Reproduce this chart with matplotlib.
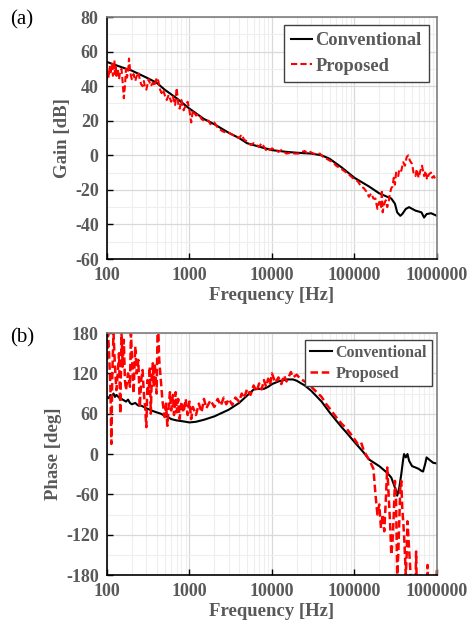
import numpy as np
import matplotlib
matplotlib.use("Agg")
import matplotlib.pyplot as plt

# ---- gain data ----
f_gain_conv = [100, 150, 200, 300, 400, 500, 700, 1000, 1500, 2000, 3000, 4000, 5000,
               7000, 10000, 15000, 20000, 30000, 40000, 50000, 70000, 100000, 150000,
               200000, 280000, 310000, 330000, 360000, 380000, 420000, 460000, 550000,
               650000, 700000, 750000, 850000, 1000000]
gain_conv = [54, 51, 49, 45, 42, 38, 33, 27, 21, 18, 13, 10, 7,
             5, 3, 2, 1.5, 1, 0, -2, -7, -13, -18,
             -22, -25, -28, -33, -35, -34, -31, -30, -32,
             -33, -36, -34, -33.5, -35]

f_gain_prop = [100, 103, 105, 108, 110, 113, 115, 118, 120, 123, 125, 128, 130, 135, 140,
               145, 150, 155, 160, 165, 170, 175, 180, 185, 190, 195, 200, 210, 220, 230,
               240, 250, 260, 270, 280, 290, 300, 320, 340, 360, 380,
               400, 420, 440, 460, 480, 500, 530, 560, 600, 630, 670, 700, 730, 760, 800,
               850, 900, 950, 1000, 1050, 1100, 1200, 1300, 1400, 1500, 1700, 1800, 2000,
               2200, 2500, 2800, 3000, 3300, 3600, 4000, 4300, 4600, 5000, 5500, 6000,
               6500, 7000, 7500, 8000, 8500, 9000, 9500, 10000, 11000, 12000, 13000,
               14000, 15000, 17000, 19000, 21000, 23000, 25000, 27000, 29000, 32000,
               35000, 38000, 42000, 46000, 50000, 55000, 60000, 65000, 70000, 80000,
               90000, 100000, 110000, 120000, 130000, 140000, 150000, 160000, 170000,
               180000, 190000, 200000, 210000, 215000, 220000, 230000, 240000, 250000,
               260000, 270000, 280000, 290000, 300000, 310000, 320000, 340000, 350000,
               370000, 390000, 410000, 430000, 450000, 470000, 500000, 520000, 550000,
               570000, 600000, 630000, 660000, 700000, 730000, 760000, 800000, 850000,
               880000, 920000, 960000, 1000000]
gain_prop = [44, 49, 45, 52, 47, 50, 53, 46, 50, 55, 47, 51, 46, 50, 44,
             49, 50, 42, 33, 40, 50, 45, 48, 56, 50, 46, 44, 47, 43, 46,
             48, 44, 41, 40, 43, 39, 38, 44, 40, 42, 40,
             45, 43, 38, 36, 38, 35, 32, 35, 31, 34, 29, 39, 30, 27, 32,
             26, 29, 31, 26, 19, 26, 23, 24, 21, 20, 20, 18, 19,
             16, 14, 13, 13, 12, 11, 10, 12, 9, 8, 6, 7,
             6, 5, 7, 5, 3, 4, 3, 4, 3, 2, 3,
             2, 1, 1.5, 1, 1, 2, 2.5, 1, 2, 1,
             0.5, 1, -1, -2, -3, -4, -6, -7, -8, -10,
             -12, -14, -15, -18, -19, -21, -24, -22, -25,
             -25, -31, -27, -30, -20, -33, -28, -26, -30,
             -27, -22, -19, -18, -13, -17, -10, -12, -8,
             -9, -4, -6, -1, 0, -3, -5, -10, -12,
             -8, -13, -9, -6, -12, -9, -14, -11, -10,
             -13, -12, -14, -14]

# ---- phase data ----
f_ph_conv = [100, 105, 110, 115, 120, 125, 130, 140, 150, 160, 170, 180, 190, 200, 220,
             240, 260, 280, 300, 330, 360, 400, 450, 500, 550, 600, 700, 800, 900, 1000,
             1200, 1500, 2000, 3000, 4000, 5000, 6000, 7000, 8000, 9000, 10000, 12000,
             15000, 18000, 20000, 25000, 30000, 40000, 50000, 60000, 70000, 80000,
             100000, 130000, 150000, 200000, 250000, 280000, 300000, 320000, 330000,
             350000, 370000, 390000, 400000, 420000, 440000, 460000, 500000, 550000,
             600000, 650000, 680000, 720000, 750000, 800000, 900000, 1000000]
ph_conv = [85, 83, 88, 86, 90, 85, 88, 84, 82, 80, 78, 81, 76, 74, 76,
           72, 72, 70, 68, 66, 64, 62, 60, 57, 55, 52, 50, 49, 48, 47,
           48, 51, 56, 66, 76, 87, 96, 97, 97, 100, 104, 108,
           111, 111, 109, 102, 94, 78, 62, 50, 40, 32,
           18, 2, -8, -18, -28, -35, -45, -55, -62,
           -50, -30, -8, 0, -5, 0, -10, -18, -20,
           -22, -25, -26, -15, -5, -8, -13, -14]

f_ph_prop = [100, 103, 106, 110, 113, 116, 120, 125, 130, 135, 140, 145, 150, 155, 160,
             165, 170, 180, 190, 195, 200, 210, 220, 230, 240, 250, 260, 270, 280, 290,
             300, 310, 320, 330, 340, 350, 360, 370, 380, 400, 410, 420, 430, 450, 470,
             500, 520, 540, 560, 580, 600, 630, 650, 680, 700, 730, 760, 800, 850, 900,
             950, 1000, 1050, 1100, 1200, 1300, 1400, 1500, 1600, 1800, 2000, 2200, 2400,
             2600, 2800, 3000, 3300, 3600, 4000, 4300, 4600, 5000, 5500, 6000, 6500,
             7000, 7500, 8000, 8500, 9000, 9500, 10000, 11000, 12000, 13000, 14000,
             15000, 16000, 17000, 18000, 20000, 22000, 25000, 28000, 30000, 35000,
             40000, 45000, 50000, 60000, 70000, 80000, 90000, 100000, 110000, 120000,
             130000, 140000, 150000, 160000, 170000, 180000, 190000, 200000, 210000,
             220000, 230000, 240000, 250000, 260000, 270000, 280000, 290000, 300000,
             310000, 320000, 330000, 340000, 350000, 360000, 370000, 380000, 400000,
             420000, 430000, 440000, 460000, 480000, 500000, 540000, 560000, 580000,
             650000, 750000, 770000, 790000, 950000, 1000000]
ph_prop = [140, 180, 150, 100, 15, 120, 180, 130, 95, 120, 150, 60, 180, 130, 170,
           110, 95, 120, 100, 180, 150, 90, 160, 120, 140, 70, 110, 125, 90, 70,
           40, 110, 90, 130, 60, 120, 135, 100, 135, 90, 180, 180, 140, 110, 80,
           55, 75, 42, 72, 92, 65, 88, 58, 92, 62, 82, 52, 78, 62, 82,
           58, 78, 52, 70, 58, 75, 62, 82, 68, 80, 70, 82, 72,
           84, 74, 82, 73, 84, 78, 90, 83, 97, 88, 102, 93,
           105, 96, 110, 100, 112, 103, 120, 106, 114, 104, 117,
           108, 115, 122, 114, 118, 112, 108, 102, 100, 92,
           85, 75, 68, 55, 45, 38, 30, 22, 15, 18,
           5, -2, -8, -15, -22, -60, -90, -75, -110,
           -90, -115, -70, -20, -60, -100, -150, -130, -90,
           -40, -70, -180, -150, -100, -50, -40, -80, -120,
           -180, -150, -100, -140, -180, -230, -250, -145, -250,
           -260, -250, -165, -250, -250, -170]

grey = "#595959"
plt.rcParams["font.family"] = ["Liberation Serif", "DejaVu Serif"]
plt.rcParams["axes.unicode_minus"] = False

fig = plt.figure(figsize=(4.74, 6.31), dpi=100)
ax1 = fig.add_axes([0.2257, 0.5895, 0.696, 0.3835])
ax2 = fig.add_axes([0.2257, 0.0887, 0.696, 0.3835])


def style_axis(ax, ymin, ymax, ystep, yminor, ylabel):
    ax.set_xscale("log")
    ax.set_xlim(100, 1e6)
    ax.set_ylim(ymin, ymax)
    xt = [100, 1000, 10000, 100000, 1000000]
    ax.set_xticks(xt)
    ax.set_xticklabels([str(v) for v in xt])
    ax.set_xticks([m * d for d in [100, 1000, 10000, 100000] for m in range(2, 10)], minor=True)
    ax.set_xticklabels([], minor=True)
    ax.set_yticks(np.arange(ymin, ymax + 1, ystep))
    ax.set_yticks(np.arange(ymin, ymax + 1, yminor), minor=True)
    ax.grid(True, which="major", color="#d9d9d9", lw=0.9)
    ax.grid(True, which="minor", color="#eeeeee", lw=0.8)
    ax.set_axisbelow(True)
    ax.tick_params(which="major", direction="in", length=4, width=1, labelsize=13,
                   labelcolor=grey, pad=6)
    ax.tick_params(which="minor", length=0)
    for lab in ax.get_xticklabels() + ax.get_yticklabels():
        lab.set_fontweight("bold")
    for s in ["left", "bottom"]:
        ax.spines[s].set_color("black")
        ax.spines[s].set_linewidth(1.2)
    for s in ["top", "right"]:
        ax.spines[s].set_color("#7f7f7f")
        ax.spines[s].set_linewidth(1.2)
    ax.set_xlabel("Frequency [Hz]", fontsize=13.5, fontweight="bold", color=grey, labelpad=2)
    ax.set_ylabel(ylabel, fontsize=13.5, fontweight="bold", color=grey, labelpad=3)


ax1.plot(f_gain_conv, gain_conv, color="black", lw=1.5, label="Conventional")
ax1.plot(f_gain_prop, gain_prop, color="red", lw=1.5, ls=(0, (3, 1.5)), label="Proposed")
style_axis(ax1, -60, 80, 20, 10, "Gain [dB]")
leg1 = ax1.legend(loc="upper right", bbox_to_anchor=(0.976, 0.967), borderaxespad=0,
                  fancybox=False, edgecolor="#404040", framealpha=1, handlelength=1.1,
                  handletextpad=0.2, borderpad=0.4, labelspacing=0.45,
                  prop={"weight": "bold", "size": 13.3})
leg1.get_frame().set_linewidth(1.0)
for t in leg1.get_texts():
    t.set_color(grey)

ax2.plot(f_ph_conv, ph_conv, color="black", lw=1.5, label="Conventional")
ax2.plot(f_ph_prop, ph_prop, color="red", lw=1.8, ls=(0, (3, 1.5)), label="Proposed")
style_axis(ax2, -180, 180, 60, 30, "Phase [deg]")
leg2 = ax2.legend(loc="upper right", bbox_to_anchor=(0.985, 0.971), borderaxespad=0,
                  fancybox=False, edgecolor="#404040", framealpha=1, handlelength=1.4,
                  handletextpad=0.2, borderpad=0.3, labelspacing=0.3,
                  prop={"weight": "bold", "size": 11.5})
leg2.get_frame().set_linewidth(1.0)
for t in leg2.get_texts():
    t.set_color(grey)

fig.text(0.021, 0.968, "(a)", fontsize=15, va="center", ha="left")
fig.text(0.021, 0.464, "(b)", fontsize=15, va="center", ha="left")

fig.savefig("out.png", dpi=100)
